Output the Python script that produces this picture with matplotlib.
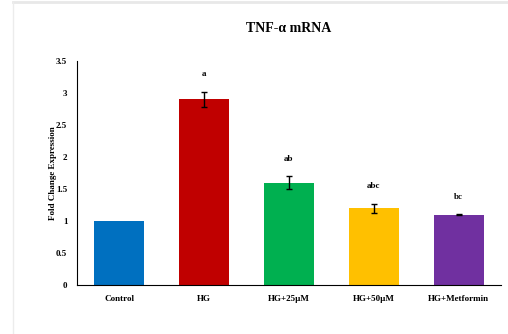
import matplotlib
matplotlib.use('Agg')
import matplotlib.pyplot as plt
from matplotlib.lines import Line2D

groups = ['Control', 'HG', 'HG+25µM', 'HG+50µM', 'HG+Metformin']
fold_change = [1.0, 2.9, 1.6, 1.2, 1.1]
sem = [0.0, 0.12, 0.1, 0.07, 0.01]
letters = ['', 'a', 'ab', 'abc', 'bc']
bar_colors = ['#0070C0', '#C00000', '#00B050', '#FFC000', '#7030A0']

plt.rcParams['font.family'] = ['Liberation Serif', 'DejaVu Serif']
plt.rcParams['font.weight'] = 'bold'

f = plt.figure(figsize=(5.08, 3.34), dpi=100)
# light edge along the top and left of the panel
f.lines.append(Line2D([12.5 / 508, 1.0], [1 - 2 / 334, 1 - 2 / 334],
                      transform=f.transFigure, color='#e8e8e8', linewidth=2))
f.lines.append(Line2D([12.5 / 508, 12.5 / 508], [0, 1 - 2 / 334],
                      transform=f.transFigure, color='#ececec', linewidth=1))

ax = f.add_axes([77 / 508, 49 / 334, 424 / 508, 224 / 334])
x = range(len(groups))
ax.bar(x, fold_change, width=0.59, color=bar_colors)
err_x = [i for i in x if sem[i] > 0]
ax.errorbar(err_x, [fold_change[i] for i in err_x], yerr=[sem[i] for i in err_x],
            fmt='none', ecolor='black', elinewidth=1, capsize=2, capthick=1)

for i in x:
    if letters[i]:
        ax.text(i, fold_change[i] + sem[i] + 0.27, letters[i], ha='center',
                va='center', fontsize=6.5, fontweight='bold')

ax.set_xlim(-0.5, 4.5)
ax.set_ylim(0, 3.5)
ax.set_yticks([0, 0.5, 1, 1.5, 2, 2.5, 3, 3.5])
ax.set_yticklabels(['0', '0.5', '1', '1.5', '2', '2.5', '3', '3.5'])
ax.set_xticks(list(x))
ax.set_xticklabels(groups)
ax.tick_params(axis='both', length=0, labelsize=6.5)
ax.tick_params(axis='y', pad=7)
ax.tick_params(axis='x', pad=7)
for lab in ax.get_xticklabels() + ax.get_yticklabels():
    lab.set_fontweight('bold')

for side in ['top', 'right']:
    ax.spines[side].set_visible(False)
ax.spines['left'].set_linewidth(0.8)
ax.spines['bottom'].set_linewidth(0.8)

ax.set_ylabel('Fold Change Expression', fontsize=6.5, fontweight='bold', labelpad=0)
ax.yaxis.set_label_coords(-20 / 424, 0.5)
f.text(289 / 508, 1 - 29 / 334, 'TNF-α mRNA', ha='center', va='center',
       fontsize=10, fontweight='bold')

f.savefig('out.png', dpi=100)
